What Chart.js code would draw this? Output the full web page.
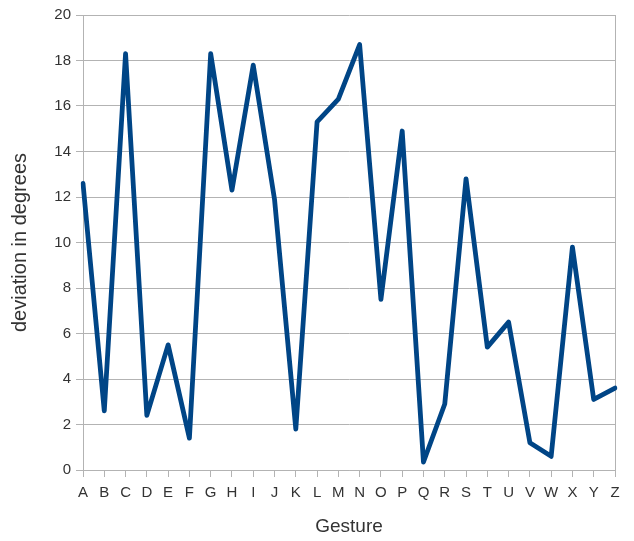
<!DOCTYPE html>
<html>
<head>
<meta charset="utf-8">
<script src="https://cdn.jsdelivr.net/npm/chart.js@4/dist/chart.umd.min.js"></script>
<style>
html,body{margin:0;padding:0;background:#fff;}
#wrap{width:634px;height:541px;position:relative;}
</style>
</head>
<body>
<div id="wrap"><canvas id="c" width="634" height="541"></canvas></div>
<script>
const categories = ["A","B","C","D","E","F","G","H","I","J","K","L","M","N","O","P","Q","R","S","T","U","V","W","X","Y","Z"];
const deviation = [12.6, 2.6, 18.3, 2.4, 5.5, 1.4, 18.3, 12.3, 17.8, 11.9, 1.8, 15.3, 16.3, 18.7, 7.5, 14.9, 0.35, 2.9, 12.8, 5.4, 6.5, 1.2, 0.6, 9.8, 3.1, 3.6];
const yTicks = [0, 2, 4, 6, 8, 10, 12, 14, 16, 18, 20];
const xTitle = "Gesture";
const yTitle = "deviation in degrees";

const gridColor = "#b3b3b3";
const textColor = "#333333";
const fontFamily = "'Liberation Sans', Arial, sans-serif";

new Chart(document.getElementById("c"), {
  type: "line",
  data: {
    labels: categories,
    datasets: [{
      data: deviation,
      borderColor: "#004586",
      backgroundColor: "#004586",
      borderWidth: 4.8,
      pointRadius: 0,
      tension: 0,
      fill: false,
      borderJoinStyle: "round",
      borderCapStyle: "round"
    }]
  },
  options: {
    responsive: false,
    animation: false,
    devicePixelRatio: 1,
    layout: { padding: { top: 15, right: 19, bottom: 0, left: 0 } },
    plugins: { legend: { display: false }, tooltip: { enabled: false } },
    scales: {
      x: {
        offset: false,
        grid: {
          display: true,
          drawOnChartArea: true,
          color: (ctx) => ctx.index === categories.length - 1 ? gridColor : "rgba(0,0,0,0)",
          tickColor: gridColor,
          tickLength: 7,
          lineWidth: 1
        },
        border: { display: true, color: gridColor },
        ticks: {
          color: textColor,
          font: { family: fontFamily, size: 15 },
          padding: 7,
          maxRotation: 0,
          autoSkip: false
        },
        title: {
          display: true,
          text: xTitle,
          color: textColor,
          font: { family: fontFamily, size: 19 },
          padding: { top: 0, bottom: 3 }
        },
        afterFit: (s) => { s.height = 71; }
      },
      y: {
        min: 0,
        max: 20,
        afterBuildTicks: (s) => { s.ticks = yTicks.map(v => ({ value: v })); },
        grid: {
          color: gridColor,
          tickColor: gridColor,
          tickLength: 7,
          lineWidth: 1
        },
        border: { display: true, color: gridColor },
        ticks: {
          color: textColor,
          font: { family: fontFamily, size: 15 },
          padding: 5
        },
        title: {
          display: true,
          text: yTitle,
          color: textColor,
          font: { family: fontFamily, size: 20 },
          padding: { top: 8, bottom: 0 }
        },
        afterFit: (s) => { s.width = 83; }
      }
    }
  }
});
</script>
</body>
</html>
